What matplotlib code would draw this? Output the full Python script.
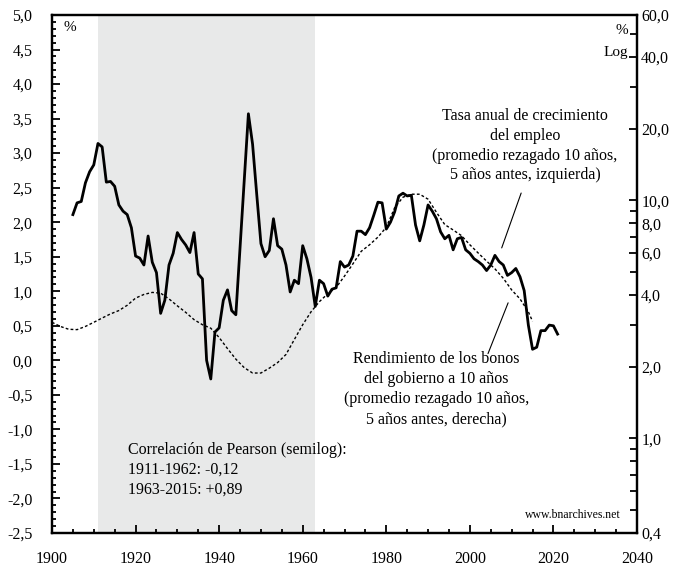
import numpy as np
import matplotlib
matplotlib.use("Agg")
import matplotlib.pyplot as plt
from matplotlib.ticker import MultipleLocator, FixedLocator, FuncFormatter, NullFormatter

plt.rcParams['font.family'] = ['Liberation Serif', 'DejaVu Serif']

# employment growth, 10-yr trailing avg, % (left axis)
emp_years = list(range(1905, 2022))
emp_values = [
    2.11, 2.28, 2.30, 2.57, 2.73, 2.83, 3.14, 3.09, 2.58, 2.59,   # 1905-1914
    2.52, 2.25, 2.16, 2.11, 1.92, 1.51, 1.48, 1.38, 1.80, 1.42,   # 1915-1924
    1.27, 0.68, 0.87, 1.38, 1.55, 1.85, 1.75, 1.67, 1.56, 1.85,   # 1925-1934
    1.25, 1.18, 0.00, -0.27, 0.41, 0.47, 0.87, 1.02, 0.72, 0.66,  # 1935-1944
    1.63, 2.60, 3.57, 3.13, 2.40, 1.69, 1.50, 1.59, 2.05, 1.66,   # 1945-1954
    1.61, 1.38, 0.99, 1.16, 1.11, 1.66, 1.47, 1.20, 0.78, 1.16,   # 1955-1964
    1.11, 0.93, 1.03, 1.05, 1.43, 1.35, 1.38, 1.51, 1.87, 1.87,   # 1965-1974
    1.82, 1.92, 2.10, 2.29, 2.28, 1.90, 2.00, 2.15, 2.38, 2.42,   # 1975-1984
    2.38, 2.39, 1.96, 1.73, 1.96, 2.25, 2.16, 2.05, 1.86, 1.76,   # 1985-1994
    1.81, 1.60, 1.76, 1.78, 1.60, 1.55, 1.47, 1.43, 1.38, 1.30,   # 1995-2004
    1.38, 1.52, 1.43, 1.38, 1.23, 1.27, 1.33, 1.21, 1.01, 0.51,   # 2005-2014
    0.16, 0.19, 0.43, 0.43, 0.51, 0.50, 0.38,                     # 2015-2021
]

# 10-yr government bond yield, 10-yr trailing avg, % (right axis, log)
bond_years = [1900, 1902, 1904, 1906, 1908, 1910, 1912, 1914, 1916, 1918,
              1920, 1922, 1924, 1926, 1928, 1930, 1932, 1934, 1936, 1938,
              1940, 1942, 1944, 1946, 1948, 1950, 1952, 1954, 1956, 1958,
              1960, 1962, 1964, 1966, 1968, 1970, 1972, 1974, 1976, 1978,
              1980, 1982, 1984, 1986, 1988, 1990, 1992, 1994, 1996, 1998,
              2000, 2002, 2004, 2006, 2008, 2010, 2012, 2014, 2015]
bond_values = [3.07, 2.95, 2.87, 2.86, 2.95, 3.07, 3.20, 3.33, 3.44, 3.62,
               3.88, 4.02, 4.10, 4.07, 3.85, 3.60, 3.38, 3.15, 3.00, 2.90,
               2.65, 2.38, 2.15, 1.98, 1.88, 1.88, 1.97, 2.08, 2.25, 2.60,
               3.00, 3.40, 3.75, 4.05, 4.30, 4.80, 5.40, 6.10, 6.50, 7.00,
               7.70, 9.30, 10.3, 10.6, 10.6, 10.1, 8.90, 7.90, 7.50, 7.10,
               6.50, 6.00, 5.55, 5.15, 4.70, 4.20, 3.85, 3.40, 3.10]

shade_start, shade_end = 1911, 1963

left_ticks = np.arange(-2.5, 5.01, 0.5)
right_ticks = [0.4, 1, 2, 4, 6, 8, 10, 20, 40, 60]
right_minor = [0.5, 0.6, 0.7, 0.8, 0.9, 3, 5, 7, 9, 30, 50]
x_ticks = list(range(1900, 2041, 20))

tasa_text = ("Tasa anual de crecimiento\ndel empleo\n"
             "(promedio rezagado 10 años,\n5 años antes, izquierda)")
rend_text = ("Rendimiento de los bonos\ndel gobierno a 10 años\n"
             "(promedio rezagado 10 años,\n5 años antes, derecha)")
corr_text = "Correlación de Pearson (semilog):\n1911-1962: -0,12\n1963-2015: +0,89"


def comma(v, pos):
    return "{:.1f}".format(v).replace(".", ",")


fig = plt.figure(figsize=(6.75, 5.67), dpi=100)
ax = fig.add_axes([52 / 675, 1 - 533 / 567, 585 / 675, 518 / 567])
ax2 = ax.twinx()

ax.axvspan(shade_start, shade_end, color="#e8e9e9", lw=0, zorder=0)
ax.plot(emp_years, emp_values, color="black", lw=2.0, zorder=3)
ax2.plot(bond_years, bond_values, color="black", lw=1.0, ls=(0, (2, 1.6)))

ax.set_xlim(1900, 2040)
ax.set_ylim(-2.5, 5.0)
ax.set_xticks(x_ticks)
ax.xaxis.set_minor_locator(MultipleLocator(5))
ax.set_yticks(left_ticks)
ax.yaxis.set_minor_locator(MultipleLocator(0.1))
ax.yaxis.set_major_formatter(FuncFormatter(comma))

ax2.set_yscale("log")
ax2.set_ylim(0.4, 60)
ax2.yaxis.set_major_locator(FixedLocator(right_ticks))
ax2.yaxis.set_minor_locator(FixedLocator(right_minor))
ax2.yaxis.set_major_formatter(FuncFormatter(comma))
ax2.yaxis.set_minor_formatter(NullFormatter())

for a in (ax, ax2):
    for s in a.spines.values():
        s.set_linewidth(1.6)
ax.tick_params(which="both", direction="in", width=1.3, labelsize=11.5)
ax.tick_params(which="major", length=6)
ax.tick_params(which="minor", length=3)
ax.tick_params(axis="y", pad=14)
ax.tick_params(axis="x", pad=13, top=False)
ax2.tick_params(which="both", direction="in", width=1.3, labelsize=11.5, pad=3)
ax2.tick_params(which="major", length=6)
ax2.tick_params(which="minor", length=5)

ax.text(0.031, 0.975, "%", transform=ax.transAxes, fontsize=11,
        ha="center", va="center")
ax.text(0.974, 0.971, "%", transform=ax.transAxes, fontsize=11,
        ha="center", va="center")
ax.text(0.985, 0.927, "Log", transform=ax.transAxes, fontsize=11,
        ha="right", va="center")
ax.text(0.8085, 0.748, tasa_text, transform=ax.transAxes, fontsize=11.5,
        ha="center", va="center", linespacing=1.33)
ax.text(0.657, 0.278, rend_text, transform=ax.transAxes, fontsize=11.5,
        ha="center", va="center", linespacing=1.33)
ax.text(0.130, 0.1216, corr_text, transform=ax.transAxes, fontsize=11.5,
        ha="left", va="center", linespacing=1.33)
ax.text(0.973, 0.035, "www.bnarchives.net", transform=ax.transAxes,
        fontsize=8.5, ha="right", va="center")

ax.annotate("", xy=(2007.4, 1.59), xytext=(2012.5, 2.46),
            arrowprops=dict(arrowstyle="-", color="black", lw=0.8))
ax.annotate("", xy=(2009.4, 0.87), xytext=(2004.1, 0.06),
            arrowprops=dict(arrowstyle="-", color="black", lw=0.8))

fig.savefig("out.png", dpi=100)
